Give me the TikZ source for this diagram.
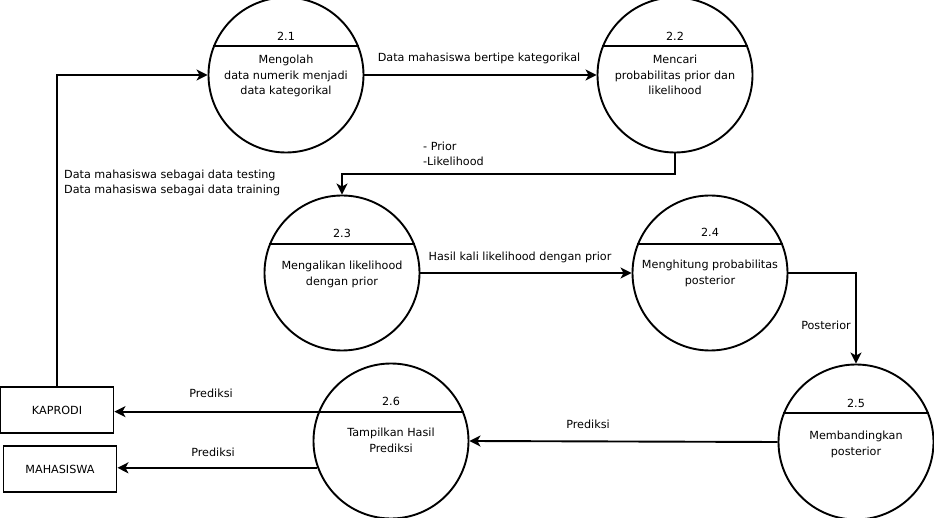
\documentclass[tikz,border=0pt]{standalone}
\usepackage{fontspec}
\setmainfont{DejaVu Sans}
\usetikzlibrary{arrows.meta}
\begin{document}
\begin{tikzpicture}[x=1pt,y=-1pt,
  font=\fontsize{11.2}{15.5}\selectfont,
  proc/.style={circle,draw,line width=1.9pt,minimum size=155pt,inner sep=0pt},
  ent/.style={rectangle,draw,line width=1.9pt,minimum width=113pt,minimum height=46pt,inner sep=0pt},
  flow/.style={line width=1.9pt,-{Stealth[length=11pt,width=11pt,inset=3pt]}},
  lbl/.style={inner sep=0pt,align=center},
  body/.style={inner sep=0pt,align=center,anchor=north}]
\useasboundingbox (0,0) rectangle (934,518);
% processes
\node[proc] (p21) at (286,75) {};
\node[proc] (p22) at (675,75) {};
\node[proc] (p23) at (342,273) {};
\node[proc] (p24) at (710,273) {};
\node[proc] (p25) at (856,442) {};
\node[proc] (p26) at (391,441) {};
\foreach \p in {p21,p22,p23,p24,p25,p26}{
  \draw[line width=1.9pt] (\p.158) -- (\p.22);
}
% numbers
\node[lbl] (n21) at (286,36) {2.1};
\node[lbl] (n22) at (675,36) {2.2};
\node[lbl] (n23) at (342,233) {2.3};
\node[lbl] (n24) at (710,232) {2.4};
\node[lbl] (n25) at (856,403) {2.5};
\node[lbl] (n26) at (391,401) {2.6};
% bodies
\node[body] (b21) at (286,55) {Mengolah\\data numerik menjadi\\data kategorikal};
\node[body] (b22) at (675,55) {Mencari\\probabilitas prior dan\\likelihood};
\node[body] (b23) at (342,261) {Mengalikan likelihood\\dengan prior};
\node[body] (b24) at (710,260) {Menghitung probabilitas\\posterior};
\node[body] (b25) at (856,431) {Membandingkan\\posterior};
\node[body] (b26) at (391,428) {Tampilkan Hasil\\Prediksi};
% entities
\node[ent] (kap) at (57,410) {KAPRODI};
\node[ent] (mah) at (60,469) {MAHASISWA};
% flows
\draw[flow] (kap.north) |- (p21.west);
\draw[flow] (p21.east) -- (p22.west);
\coordinate (bend) at (675,174);
\draw[flow] (p22.south) -- (bend) -| (p23.north);
\draw[flow] (p23.east) -- (p24.west);
\draw[flow] (p24.east) -| (p25.north);
\draw[flow] (p25.west) -- (p26.east);
\draw[flow] (p26.158) -- (p26.158 -| kap.east);
\draw[flow] (p26.200) -- (p26.200 -| mah.east);
% flow labels
\node[lbl] (l1) at (479,58) {Data mahasiswa bertipe kategorikal};
\node[lbl,align=left,anchor=west] (l2) at (423,154) {- Prior\\-Likelihood};
\node[lbl,align=left,anchor=west] (l3) at (64,183) {Data mahasiswa sebagai data testing\\Data mahasiswa sebagai data training};
\node[lbl] (l4) at (520,257) {Hasil kali likelihood dengan prior};
\node[lbl] (l5) at (826,325) {Posterior};
\node[lbl] (l6) at (588,424) {Prediksi};
\node[lbl] (l7) at (211,393) {Prediksi};
\node[lbl] (l8) at (213,452) {Prediksi};
\end{tikzpicture}
\end{document}
